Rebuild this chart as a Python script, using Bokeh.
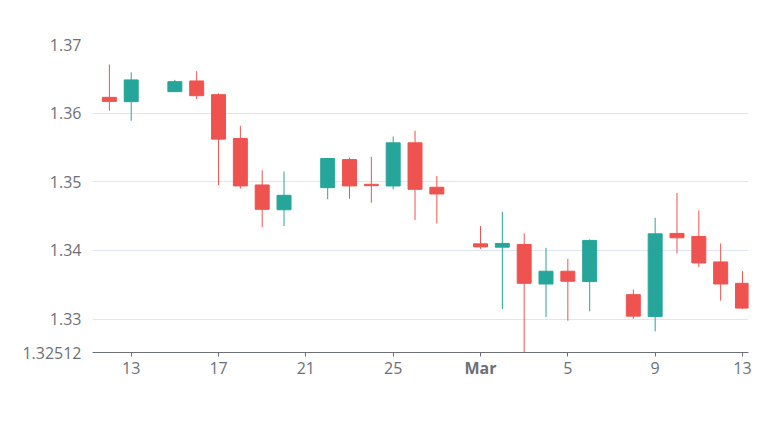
import pandas as pd
from bokeh.plotting import figure
from bokeh.models import Range1d, FixedTicker, ColumnDataSource, Label
from bokeh.embed import file_html
from bokeh.resources import INLINE

dates = ["2023-02-12", "2023-02-13", "2023-02-15", "2023-02-16", "2023-02-17", "2023-02-18",
         "2023-02-19", "2023-02-20", "2023-02-22", "2023-02-23", "2023-02-24", "2023-02-25",
         "2023-02-26", "2023-02-27", "2023-03-01", "2023-03-02", "2023-03-03", "2023-03-04",
         "2023-03-05", "2023-03-06", "2023-03-08", "2023-03-09", "2023-03-10", "2023-03-11",
         "2023-03-12", "2023-03-13"]
open_ = [1.3623, 1.36167, 1.36313, 1.36469, 1.36269, 1.3563, 1.34953, 1.34592, 1.34914, 1.35323,
         1.34963, 1.34939, 1.35567, 1.3492, 1.34095, 1.34047, 1.34086, 1.3351, 1.33696, 1.33545,
         1.33355, 1.33038, 1.34247, 1.34203, 1.33832, 1.3352]
high = [1.36708, 1.36595, 1.36484, 1.3661, 1.36288, 1.35816, 1.35168, 1.35148, 1.35338, 1.35352,
        1.35363, 1.35659, 1.35743, 1.35085, 1.34354, 1.34563, 1.34247, 1.34037, 1.33876, 1.34159,
        1.33428, 1.34475, 1.34836, 1.34583, 1.34101, 1.33696]
low = [1.36035, 1.35889, 1.36313, 1.36206, 1.34949, 1.349, 1.34339, 1.34354, 1.34744, 1.34753,
       1.34694, 1.3489, 1.34442, 1.34393, 1.34022, 1.33145, 1.32512, 1.33028, 1.32975, 1.33111,
       1.33004, 1.32819, 1.33955, 1.33754, 1.33268, 1.33145]
close = [1.36171, 1.36484, 1.36459, 1.36254, 1.35621, 1.34939, 1.34598, 1.34803, 1.35338, 1.34939,
         1.34943, 1.35567, 1.3489, 1.34822, 1.34051, 1.34101, 1.3352, 1.33696, 1.3355, 1.34145,
         1.33042, 1.34241, 1.34183, 1.33817, 1.3351, 1.33159]

x_tick_dates = ["2023-02-13", "2023-02-17", "2023-02-21", "2023-02-25", "2023-03-01",
                "2023-03-05", "2023-03-09", "2023-03-13"]
x_tick_labels = ["13", "17", "21", "25", "Mar", "5", "9", "13"]
y_ticks = [1.32512, 1.33, 1.34, 1.35, 1.36, 1.37]
y_tick_labels = ["1.32512", "1.33", "1.34", "1.35", "1.36", "1.37"]

UP = "#26a69a"
DOWN = "#ef5350"
TXT = "#6e7079"
FONT = "Open Sans"
DAY = 86400000.0
Y0, Y1 = 1.32512, 1.37

ts = pd.to_datetime(dates)
df = pd.DataFrame({"date": ts, "open": open_, "high": high, "low": low, "close": close})
df["top"] = df[["open", "close"]].max(axis=1)
df["bottom"] = df[["open", "close"]].min(axis=1)
df["color"] = [UP if c >= o else DOWN for o, c in zip(df["open"], df["close"])]
src = ColumnDataSource(df)

def ms(s):
    return pd.Timestamp(s).value / 1e6

x0 = ms("2023-02-13") - 1.773 * DAY
x1 = ms("2023-03-13") + 0.275 * DAY

p = figure(width=770, height=444, x_axis_type="datetime",
           x_range=Range1d(x0, x1), y_range=Range1d(Y0, Y1),
           output_backend="svg", toolbar_location=None,
           min_border_left=92, min_border_right=22, min_border_top=44, min_border_bottom=92)
p.outline_line_color = None
p.background_fill_color = "white"
p.border_fill_color = "white"

p.segment(x0="date", y0="high", x1="date", y1="low", source=src, line_color="color", line_width=1)
p.vbar(x="date", width=0.64 * DAY, top="top", bottom="bottom", source=src,
       fill_color="color", line_color="color", line_width=1)

# x axis (regular day labels)
xt = [ms(d) for d in x_tick_dates]
xa = p.xaxis[0]
xa.ticker = FixedTicker(ticks=xt)
xa.major_label_overrides = {t: ("" if l == "Mar" else l) for t, l in zip(xt, x_tick_labels)}
xa.axis_line_color = TXT
xa.major_tick_line_color = TXT
xa.major_tick_out = 4
xa.major_tick_in = 0
xa.minor_tick_line_color = None
xa.major_label_text_color = TXT
xa.major_label_text_font = FONT
xa.major_label_text_font_size = "16px"
xa.major_label_standoff = 5

# bold month label placed in the bottom side panel (not clipped to the frame)
for t, l in zip(xt, x_tick_labels):
    if l == "Mar":
        p.add_layout(Label(x=t, y=31, x_units="data", y_units="screen", text=l,
                           text_align="center", text_baseline="middle", text_font=FONT,
                           text_font_size="16px", text_font_style="bold", text_color=TXT),
                     "below")

# y axis
ya = p.yaxis[0]
ya.ticker = FixedTicker(ticks=y_ticks)
ya.major_label_overrides = {t: l for t, l in zip(y_ticks, y_tick_labels)}
ya.axis_line_color = None
ya.major_tick_line_color = None
ya.major_tick_out = 0
ya.major_tick_in = 0
ya.minor_tick_line_color = None
ya.major_label_text_color = TXT
ya.major_label_text_font = FONT
ya.major_label_text_font_size = "16px"
ya.major_label_standoff = 11

p.xgrid.grid_line_color = None
p.ygrid.grid_line_color = "#e0e6f1"
p.ygrid.grid_line_width = 1

open("out.html", "w").write(file_html(p, INLINE))
